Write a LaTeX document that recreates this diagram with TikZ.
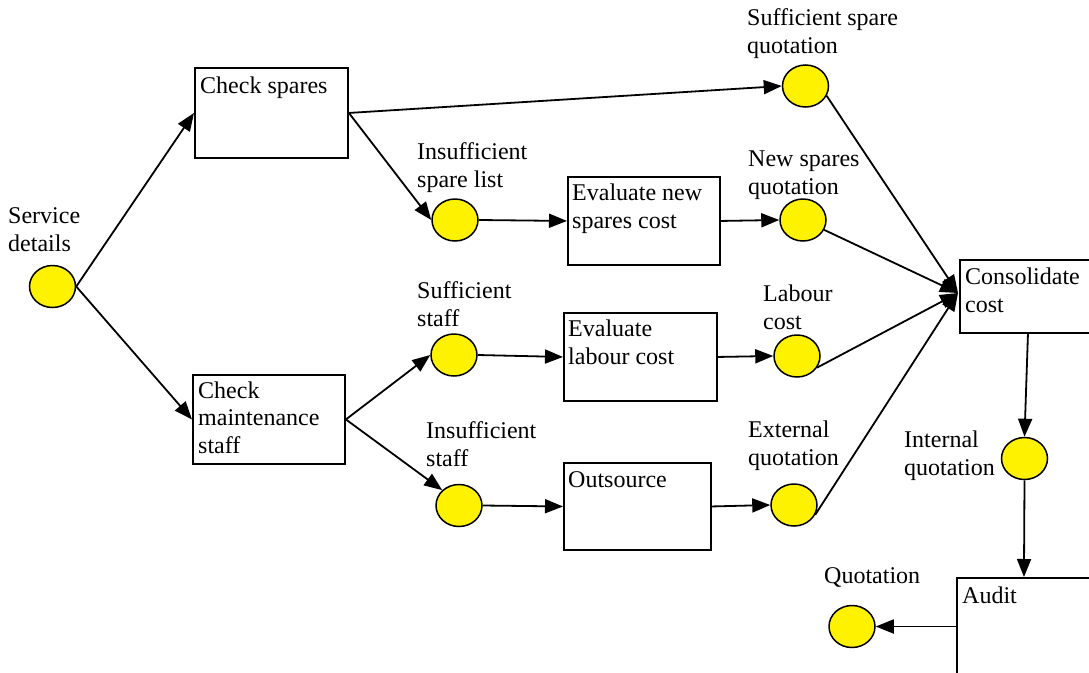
\documentclass[tikz,border=0pt]{standalone}
\usepackage{fontspec}
\setmainfont{Liberation Serif}
\usetikzlibrary{arrows.meta,shapes.geometric}
\tikzset{
  procbox/.style={draw=black, line width=1.9pt, fill=white, inner sep=0pt, anchor=north west},
  token/.style={ellipse, draw=black, line width=1.5pt, fill=yellow, inner sep=0pt,
                minimum width=46pt, minimum height=42pt},
  % multi-line texts are placed by the baseline of their last line
  lbl/.style={inner sep=0pt, align=left, anchor=base west,
              font=\fontsize{24}{27.5}\selectfont},
  flow/.style={line width=1.8pt, -{Triangle[length=18pt,width=14pt]}},
}
\begin{document}
\begin{tikzpicture}[x=1pt,y=-1pt]
\useasboundingbox (0,0) rectangle (1089,672);
\clip (0,0) rectangle (1089,672);

% process boxes
\node[procbox, minimum width=153pt, minimum height=90pt] (cs)  at (194,67)  {};
\node[procbox, minimum width=152pt, minimum height=89pt] (cm)  at (192,374) {};
\node[procbox, minimum width=152pt, minimum height=88pt] (ens) at (567,176) {};
\node[procbox, minimum width=153pt, minimum height=88pt] (elc) at (563,312) {};
\node[procbox, minimum width=147pt, minimum height=87pt] (out) at (563,462) {};
\node[procbox, minimum width=136pt, minimum height=73pt] (cons) at (959,259) {};
\node[procbox, minimum width=134pt, minimum height=130pt] (aud) at (956,577) {};

% tokens
\node[token] (sd)  at (52.5,286.5) {};
\node[token] (ssq) at (805.5,86) {};
\node[token] (isl) at (455,220) {};
\node[token] (nsq) at (803,220) {};
\node[token] (ss)  at (454,355) {};
\node[token] (lc)  at (797,356) {};
\node[token] (is)  at (459,505.5) {};
\node[token] (eq)  at (794,505) {};
\node[token] (iq)  at (1024.5,458.5) {};
\node[token] (q)   at (852,626.5) {};

% box texts
\node[lbl] (tcs)   at (200,93)  {Check spares};
\node[lbl] (tcm)   at (198,453) {Check\\maintenance\\staff};
\node[lbl] (tens)  at (572,228) {Evaluate new\\spares cost};
\node[lbl] (telc)  at (568,364) {Evaluate\\labour cost};
\node[lbl] (tout)  at (568,487) {Outsource};
\node[lbl] (tcons) at (965,312) {Consolidate\\cost};
\node[lbl] (taud)  at (962,603) {Audit};

% token labels
\node[lbl] (lsd)  at (8,251)   {Service\\details};
\node[lbl] (lssq) at (747,53)  {Sufficient spare\\quotation};
\node[lbl] (lisl) at (417,187) {Insufficient\\spare list};
\node[lbl] (lnsq) at (748,194) {New spares\\quotation};
\node[lbl] (lss)  at (417,326) {Sufficient\\staff};
\node[lbl] (llc)  at (763,329) {Labour\\cost};
\node[lbl] (lis)  at (426,466) {Insufficient\\staff};
\node[lbl] (leq)  at (748,465) {External\\quotation};
\node[lbl] (liq)  at (904,475) {Internal\\quotation};
\node[lbl] (lq)   at (824,583) {Quotation};

% merge point on the consolidation box
\coordinate (cc) at (958,293);

% connectors
\draw[flow] (sd.east) -- (cs.west);
\draw[flow] (sd.east) -- (cm.west);
\draw[flow] (cs.east) -- (ssq.west);
\draw[flow] (cs.east) -- (isl.west);
\draw[flow] (isl.east) -- (ens.west);
\draw[flow] (ens.east) -- (nsq.west);
\draw[flow] (cm.east) -- (ss.west);
\draw[flow] (cm.east) -- (is.north west);
\draw[flow] (ss.east) -- (elc.west);
\draw[flow] (is.east) -- (out.west);
\draw[flow] (elc.east) -- (lc.west);
\draw[flow] (out.east) -- (eq.west);
\draw[flow] (ssq.-25) -- (cc);
\draw[flow] (nsq.-25) -- (cc);
\draw[flow] (lc.-30) -- (cc);
\draw[flow] (eq.-25) -- (cc);
\draw[flow] (cons.south) -- (iq.north);
\draw[flow] (iq.south) -- (aud.north);
\draw[flow] (aud.west |- q.east) -- (q.east);
\end{tikzpicture}
\end{document}
